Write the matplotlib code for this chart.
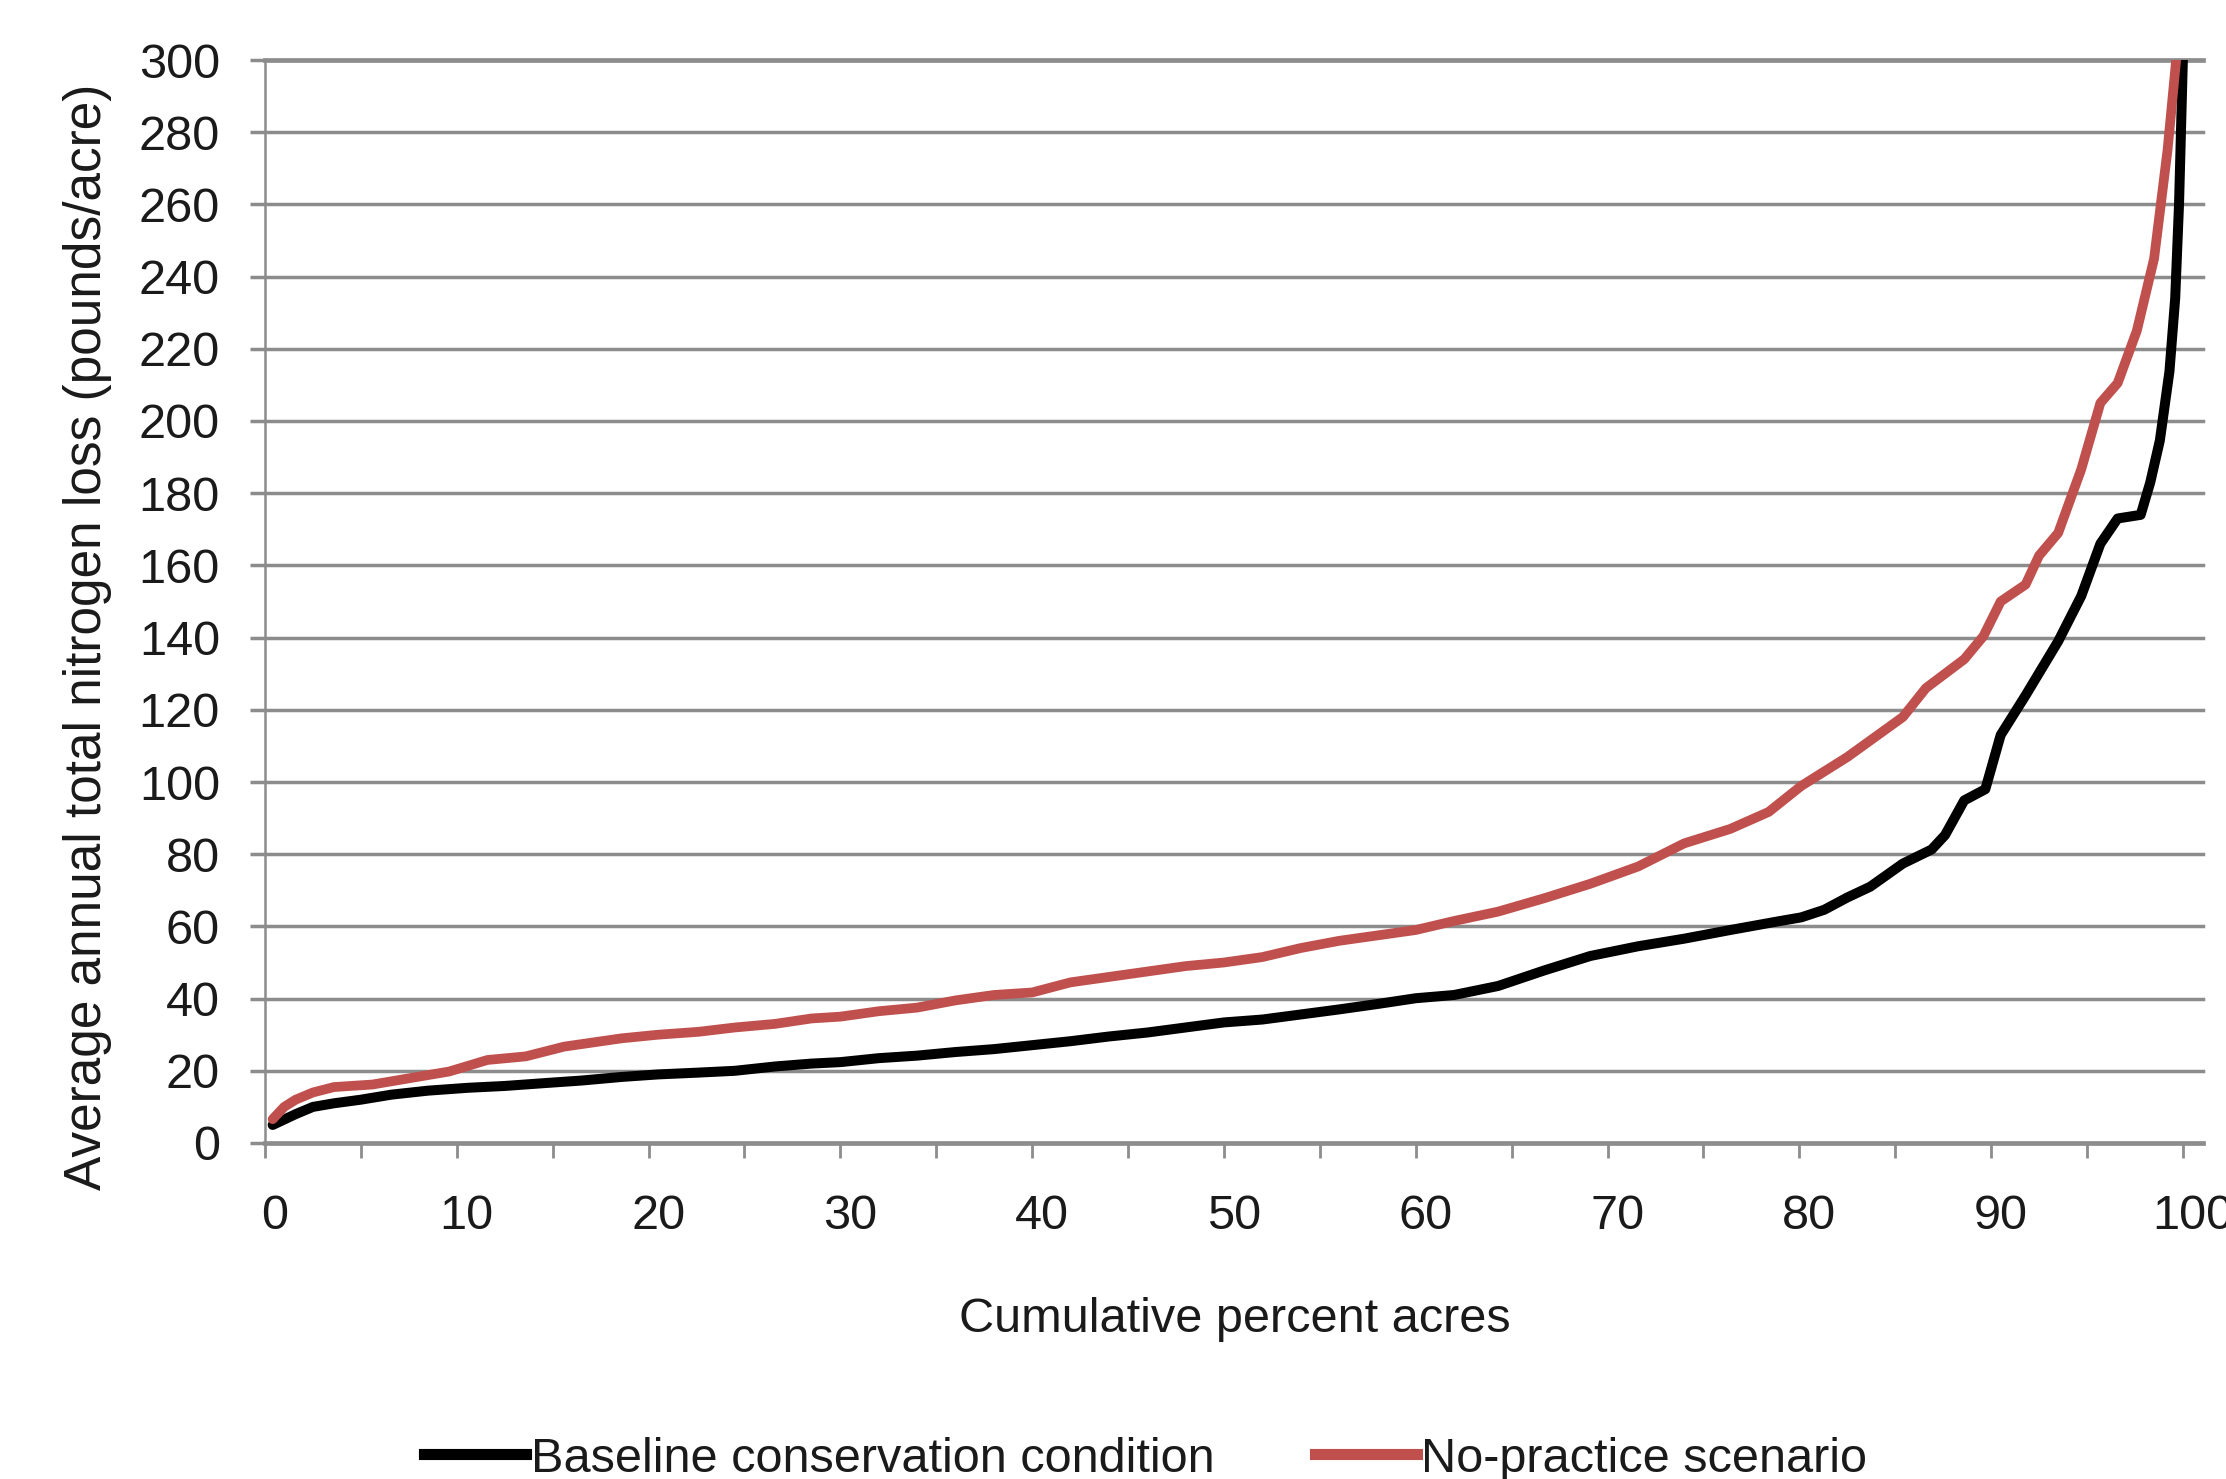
import matplotlib
matplotlib.use("Agg")
import matplotlib.pyplot as plt
import matplotlib.transforms as mtransforms
from matplotlib.lines import Line2D

plt.rcParams['font.family'] = ['Liberation Sans', 'DejaVu Sans']

# Cumulative percent acres / nitrogen loss (pounds/acre)
baseline_x = [0.4, 1, 1.6, 2.5, 3.6, 5, 6.6, 8.5, 10.6, 12.5, 14.6, 16.5, 18.6, 20.5,
              22.6, 24.5, 26.6, 28.5, 30, 32, 34, 36, 38, 40, 42, 44, 46, 48, 50, 52,
              54, 56, 58, 60, 62, 64.3, 66.7, 69.1, 71.6, 74, 76.4, 78.9, 80.1, 81.3,
              82.5, 83.7, 85.4, 86.9, 87.6, 88.6, 89.7, 90.5, 91.8, 93.5, 94.7, 95.7,
              96.6, 97.8, 98.3, 98.8, 99.3, 99.6, 99.8, 100]
baseline_y = [5, 6.5, 8, 10, 11, 12, 13.4, 14.5, 15.3, 15.8, 16.6, 17.3, 18.3, 19,
              19.5, 20, 21.2, 22, 22.4, 23.5, 24.2, 25.2, 26, 27.1, 28.2, 29.5, 30.6,
              32, 33.4, 34.2, 35.6, 37, 38.5, 40.1, 41, 43.5, 47.8, 51.8, 54.5, 56.6,
              59, 61.4, 62.5, 64.6, 68, 71, 77.4, 81.3, 85.3, 94.9, 98, 113, 124, 139,
              151.5, 166, 173, 174, 183, 194.6, 213.7, 234, 260, 300]

nopractice_x = [0.4, 1, 1.6, 2.5, 3.6, 5.6, 7.6, 9.6, 11.6, 13.6, 15.6, 18.6, 20.5,
                22.6, 24.5, 26.6, 28.5, 30, 32, 34, 36, 38, 40, 42, 44, 46, 48, 50, 52,
                54, 56, 58, 60, 62, 64.3, 66.7, 69.1, 71.6, 74, 76.4, 78.4, 80.1, 82.5,
                85.4, 86.6, 88.6, 89.6, 90.5, 91.8, 92.5, 93.5, 94.7, 95.7, 96.6, 97.6,
                98.5, 99.2, 99.65]
nopractice_y = [6.6, 10, 12, 14, 15.5, 16.2, 18, 19.8, 23, 24, 26.7, 29, 30, 30.8, 32,
                33, 34.5, 35, 36.5, 37.5, 39.5, 41, 41.7, 44.5, 46, 47.5, 49, 50, 51.5,
                54, 56, 57.5, 59, 61.5, 64.1, 67.8, 71.8, 76.6, 83, 87, 91.7, 98.9,
                106.9, 118, 126, 134, 140.4, 150, 154.7, 162.7, 169, 186.6, 205, 210.5,
                225, 245, 275, 300]

x_ticks = [0, 10, 20, 30, 40, 50, 60, 70, 80, 90, 100]
y_ticks = [0, 20, 40, 60, 80, 100, 120, 140, 160, 180, 200, 220, 240, 260, 280, 300]

series_labels = ["Baseline conservation condition", "No-practice scenario"]
colors = ["#000000", "#C0504D"]
grid_color = "#8C8C8C"
text_color = "#1A1A1A"
fs = 35

W, H = 2226, 1479
fig = plt.figure(figsize=(W / 100, H / 100), dpi=100)
left, right, top, bottom = 265, 2203, 60, 1143
ax = fig.add_axes([left / W, 1 - bottom / H, (right - left) / W, (bottom - top) / H])

ax.set_xlim(0, 101.05)
ax.set_ylim(0, 300)

for yv in y_ticks[1:]:
    ax.axhline(yv, color=grid_color, lw=3.4 if yv == 300 else 2.5, zorder=1,
               clip_on=False)

ax.plot(baseline_x, baseline_y, color=colors[0], lw=7.2, zorder=3,
        solid_capstyle='round', solid_joinstyle='round', label=series_labels[0])
ax.plot(nopractice_x, nopractice_y, color=colors[1], lw=7.0, zorder=4,
        solid_capstyle='round', solid_joinstyle='round', label=series_labels[1])

for s in ['top', 'right']:
    ax.spines[s].set_visible(False)
ax.spines['bottom'].set_color(grid_color)
ax.spines['bottom'].set_linewidth(3.4)
ax.spines['left'].set_color(grid_color)
ax.spines['left'].set_linewidth(1.8)

ax.set_xticks(x_ticks)
ax.set_xticks([5, 15, 25, 35, 45, 55, 65, 75, 85, 95], minor=True)
ax.set_yticks(y_ticks)
ax.set_xticklabels([str(v) for v in x_ticks])
ax.set_yticklabels([str(v) for v in y_ticks])

ax.tick_params(axis='x', which='both', direction='out', length=10.8, width=2,
               color=grid_color)
ax.tick_params(axis='x', which='major', pad=26, labelsize=fs, labelcolor=text_color)
ax.tick_params(axis='y', which='major', direction='out', length=10.8, width=2.5,
               color=grid_color, pad=21.6, labelsize=fs, labelcolor=text_color)

offset = mtransforms.ScaledTranslation(0.10, 0, fig.dpi_scale_trans)
for lab in ax.get_xticklabels():
    lab.set_transform(lab.get_transform() + offset)

ax.set_xlabel("Cumulative percent acres", fontsize=fs, color=text_color, va='center')
ax.xaxis.set_label_coords(0.5005, -0.1634)
ax.set_ylabel("Average annual total nitrogen loss (pounds/acre)", fontsize=37,
              color=text_color, va='center')
ax.yaxis.set_label_coords(-0.0915, 0.467)

handles = [Line2D([], [], color=colors[0], lw=8),
           Line2D([], [], color=colors[1], lw=8)]
fig.legend(handles, series_labels, loc='center left',
           bbox_to_anchor=(400 / W, 1 - 1459 / H), ncol=2, frameon=False,
           fontsize=fs, handlelength=2.1, handletextpad=0.1, columnspacing=2.05,
           borderpad=0, labelcolor=text_color)

fig.savefig("out.png", dpi=100, facecolor='white')
